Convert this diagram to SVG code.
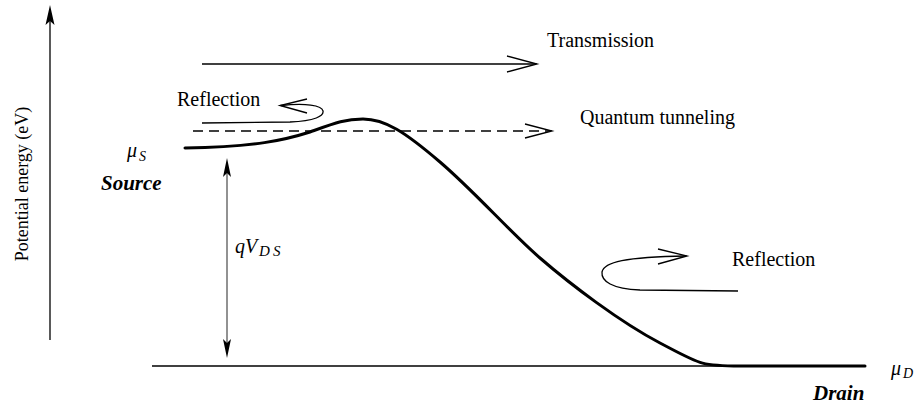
<svg xmlns="http://www.w3.org/2000/svg" width="920" height="406" viewBox="0 0 920 406">
<style>
text{font-family:"Liberation Serif","Times New Roman",serif;fill:#000}
.t{font-size:20px}
.bi{font-size:21px;font-weight:bold;font-style:italic}
.m{font-style:italic}
.ln{fill:none;stroke:#000;stroke-width:1.3}
.thick{fill:none;stroke:#000;stroke-width:3;stroke-linejoin:round;stroke-linecap:round}
.ah{fill:none;stroke:#000;stroke-width:1.3;stroke-linejoin:miter}
.fh{fill:#000;stroke:none}
</style>
<g id="axis">
<line class="ln" x1="50" y1="340" x2="50" y2="14"/>
<path class="fh" d="M50,5 L54.5,25 L50,21 L45.5,25 Z"/>
<text class="t" font-size="18" style="font-size:18px" transform="translate(28,184) rotate(-90)" text-anchor="middle">Potential energy (eV)</text>
</g>
<g id="baseline">
<line class="ln" x1="152" y1="366" x2="865" y2="366"/>
</g>
<g id="potential">
<path class="thick" d="M185,148 C255,147 285,140 310,132 C335,123 345,119 363,119 C385,119 405,132 440,162 S510,232 540,258 S620,322 660,343 S700,366 740,366 L865,366"/>
</g>
<g id="connectors">
<g id="transmission-arrow">
<line class="ln" x1="202" y1="64" x2="536" y2="64"/>
<polyline class="ah" points="507,56 537,64 507,72"/>
</g>
<g id="tunneling-arrow">
<line class="ln" x1="193" y1="131" x2="551" y2="131" stroke-dasharray="10,6"/>
<polyline class="ah" points="525,124 552,131 525,138"/>
</g>
<g id="reflection-top-arrow">
<path class="ln" d="M202,123 L290,122 C315,121 324,116 323,111 C322,105 305,103 281,105.5"/>
<polyline class="ah" points="307,99 280,105.5 307,113"/>
</g>
<g id="reflection-bottom-arrow">
<path class="ln" d="M738,291 L640,290 C612,289 601,281 602,272 C604,262 625,257 686,256"/>
<polyline class="ah" points="658,249 687,256 658,264"/>
</g>
<g id="vds-arrow">
<line x1="227" y1="170" x2="227" y2="346" stroke="#777" stroke-width="1.6"/>
<path class="fh" d="M227,158 L231,177 L227,173 L223,177 Z"/>
<path class="fh" d="M227,358 L231,339 L227,343 L223,339 Z"/>
</g>
</g>
<g id="labels">
<text class="t" x="547" y="47">Transmission</text>
<text class="t" x="580" y="124">Quantum tunneling</text>
<text class="t" x="177" y="106">Reflection</text>
<text class="t" x="732" y="266">Reflection</text>
<g id="mu-s"><text class="m" x="127" y="157" font-size="20">μ</text><text class="m" x="139" y="161" font-size="14">S</text></g>
<text class="bi" x="101" y="190">Source</text>
<g id="qvds"><text class="m" x="235" y="253" font-size="20">q</text><text class="m" x="245" y="253" font-size="20">V</text><text class="m" x="259" y="256" font-size="15">D</text><text class="m" x="273" y="256" font-size="15">S</text></g>
<g id="mu-d"><text class="m" x="891" y="375" font-size="20">μ</text><text class="m" x="903" y="378" font-size="14">D</text></g>
<text class="bi" x="813" y="400">Drain</text>
</g>
</svg>
